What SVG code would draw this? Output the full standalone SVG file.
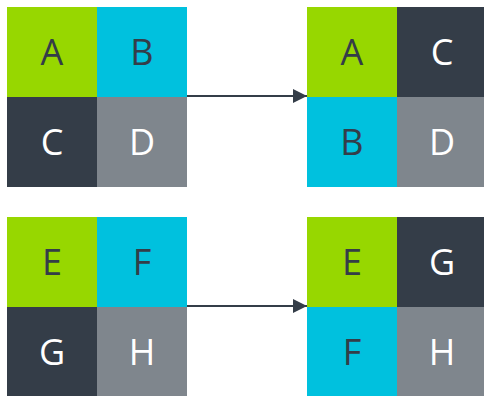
<svg xmlns="http://www.w3.org/2000/svg" width="484" height="396" viewBox="0 0 484 396">
<defs>
<style>
.g{fill:#97d700}.c{fill:#00c1de}.d{fill:#343d48}.m{fill:#7f868d}
text{font-family:"Open Sans","DejaVu Sans",sans-serif;font-size:36px;text-anchor:middle}
.tl{fill:#343d48}.tw{fill:#ffffff}
.conn{stroke:#343d48;stroke-width:2;fill:none}
</style>
<marker id="ah" markerWidth="14" markerHeight="14" refX="14" refY="7" orient="auto" markerUnits="userSpaceOnUse">
<path d="M0,0 L14,7 L0,14 Z" fill="#343d48"/>
</marker>
</defs>
<rect width="484" height="396" fill="#ffffff"/>
<g id="top-left">
<g id="tl-A"><rect class="g" x="7" y="7" width="90" height="90"/><text class="tl" x="52" y="65">A</text></g>
<g id="tl-B"><rect class="c" x="97" y="7" width="90" height="90"/><text class="tl" x="142" y="65">B</text></g>
<g id="tl-C"><rect class="d" x="7" y="97" width="90" height="90"/><text class="tw" x="52" y="155">C</text></g>
<g id="tl-D"><rect class="m" x="97" y="97" width="90" height="90"/><text class="tw" x="142" y="155">D</text></g>
</g>
<g id="top-right">
<g id="tr-A"><rect class="g" x="307" y="7" width="90" height="90"/><text class="tl" x="352" y="65">A</text></g>
<g id="tr-C"><rect class="d" x="397" y="7" width="90" height="90"/><text class="tw" x="442" y="65">C</text></g>
<g id="tr-B"><rect class="c" x="307" y="97" width="90" height="90"/><text class="tl" x="352" y="155">B</text></g>
<g id="tr-D"><rect class="m" x="397" y="97" width="90" height="90"/><text class="tw" x="442" y="155">D</text></g>
</g>
<g id="bottom-left">
<g id="bl-E"><rect class="g" x="7" y="217" width="90" height="90"/><text class="tl" x="52" y="275">E</text></g>
<g id="bl-F"><rect class="c" x="97" y="217" width="90" height="90"/><text class="tl" x="142" y="275">F</text></g>
<g id="bl-G"><rect class="d" x="7" y="307" width="90" height="90"/><text class="tw" x="52" y="365">G</text></g>
<g id="bl-H"><rect class="m" x="97" y="307" width="90" height="90"/><text class="tw" x="142" y="365">H</text></g>
</g>
<g id="bottom-right">
<g id="br-E"><rect class="g" x="307" y="217" width="90" height="90"/><text class="tl" x="352" y="275">E</text></g>
<g id="br-G"><rect class="d" x="397" y="217" width="90" height="90"/><text class="tw" x="442" y="275">G</text></g>
<g id="br-F"><rect class="c" x="307" y="307" width="90" height="90"/><text class="tl" x="352" y="365">F</text></g>
<g id="br-H"><rect class="m" x="397" y="307" width="90" height="90"/><text class="tw" x="442" y="365">H</text></g>
</g>
<g id="connectors">
<path class="conn" d="M187,96 L307,96" marker-end="url(#ah)"/>
<path class="conn" d="M187,306 L307,306" marker-end="url(#ah)"/>
</g>
</svg>
